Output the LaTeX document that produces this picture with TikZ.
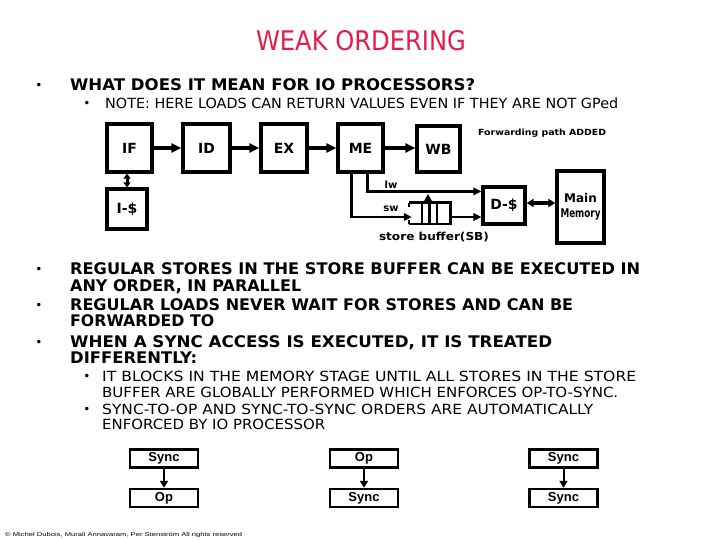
\documentclass[tikz,border=0pt]{standalone}
\usepackage{fontspec}
\usepackage{graphicx}
\setmainfont{DejaVu Sans}
\newfontfamily\arialf{Liberation Sans}
\usetikzlibrary{arrows.meta,calc}
\definecolor{titlered}{RGB}{228,28,78}
\newcommand\fitto[2]{\resizebox{#1pt}{\height}{#2}}
\begin{document}
\begin{tikzpicture}[x=1pt,y=-1pt,
  box/.style={draw,line width=3.2pt,inner sep=0pt,font=\bfseries\fontsize{14}{15}\selectfont},
  arr/.style={line width=3.2pt,-{Triangle[length=10pt,width=9pt]}},
  darr/.style={line width=3.2pt,arrows={Triangle[length=7pt,width=8pt]-Triangle[length=7pt,width=8pt]}},
  sdarr/.style={line width=3pt,arrows={Triangle[length=5pt,width=7pt]-Triangle[length=5pt,width=7pt]}},
  thinarr/.style={line width=2.6pt,-{Triangle[length=8pt,width=7.5pt]}},
  lbl/.style={inner sep=0pt,font=\bfseries\fontsize{10}{11}\selectfont},
  sbox/.style={draw,line width=2.4pt,inner sep=0pt,minimum width=68pt,minimum height=18pt,font=\arialf\bfseries\fontsize{13}{13}\selectfont},
  sarr/.style={line width=2pt,-{Triangle[length=7pt,width=8pt]}},
  bul/.style={inner sep=0pt,anchor=base,font=\fontsize{12}{12}\selectfont},
  bold/.style={inner sep=0pt,anchor=base west,font=\bfseries\fontsize{16}{16}\selectfont},
  thin/.style={inner sep=0pt,anchor=base west,font=\fontsize{14}{14}\selectfont}
]
\useasboundingbox (0,0) rectangle (720,540);

% title
\node[inner sep=0pt,text=titlered,font=\fontsize{27}{27}\selectfont] (title) at (361,41) {\fitto{210}{WEAK ORDERING}};

% bullet 1
\node[bul] (b1) at (39,90) {•};
\node[bold] (t1) at (70,91) {\fitto{405}{WHAT DOES IT MEAN FOR IO PROCESSORS?}};
\node[bul] (b1a) at (87,108) {•};
\node[thin] (t1a) at (105,109) {\fitto{513}{NOTE: HERE LOADS CAN RETURN VALUES EVEN IF THEY ARE NOT GPed}};

% pipeline
\node[box,minimum width=45pt,minimum height=48pt] (IF) at (129.5,148) {IF};
\node[box,minimum width=47pt,minimum height=48pt] (ID) at (206.5,148) {ID};
\node[box,minimum width=46pt,minimum height=48pt] (EX) at (284,148) {EX};
\node[box,minimum width=45pt,minimum height=48pt] (ME) at (360.5,148) {ME};
\node[box,minimum width=43pt,minimum height=46pt] (WB) at (438.5,149) {WB};
\node[box,minimum width=40pt,minimum height=40pt] (IC) at (127,209) {I-\$};
\node[box,minimum width=42pt,minimum height=37pt] (DC) at (504,205.5) {D-\$};
\node[box,minimum width=47pt,minimum height=72pt,align=center,font=\bfseries\fontsize{12}{15}\selectfont] (MM) at (580.5,207) {Main\\\fitto{40}{Memory}};

\draw[arr] (IF) -- (ID);
\draw[arr] (ID) -- (EX);
\draw[arr] (EX) -- (ME);
\draw[arr] (ME.east) -- (ME.east -| WB.west);
\coordinate (icA) at (IF.south -| IC.north);
\draw[sdarr] (icA) -- (IC.north);

\node[lbl,anchor=west,font=\bfseries\fontsize{8.5}{9}\selectfont] (fwd) at (478,133) {\fitto{128}{Forwarding path ADDED}};

% store buffer
\node[inner sep=0pt,minimum width=41pt,minimum height=21pt] (SB) at (429.5,213.5) {};
\draw[line width=2.6pt] (SB.north west) -- (SB.north east) -- (SB.south east) -- (SB.south west);
\foreach \xx in {422,429.5,437} \draw[line width=2.4pt] (\xx,203) -- (\xx,224);
\draw[line width=2.4pt] (SB.north west) -- ++(0,4);
\draw[line width=2.4pt] (SB.south west) -- ++(0,-4);

\coordinate (lwA) at ($(ME.south west)+(31,0)$);
\coordinate (swA) at ($(ME.south west)+(15,0)$);
\coordinate (lwB) at ($(DC.north west)+(0,6)$);
\coordinate (swB) at ($(SB.west)+(3,3.5)$);
\draw[thinarr] (lwA) |- (lwB);
\draw[thinarr] (swA) |- (swB);
\draw[line width=2.4pt,-{Triangle[length=7pt,width=7pt]}] ($(SB.north)+(-1.5,0)$) -- ($(SB.north)+(-1.5,-9)$);
\coordinate (sbA) at ($(SB.east)+(0,3.5)$);
\coordinate (sbB) at (sbA -| DC.west);
\draw[thinarr] (sbA) -- (sbB);
\coordinate (dmA) at ($(DC.east)+(0,-2.5)$);
\coordinate (dmB) at (dmA -| MM.west);
\draw[darr] (dmA) -- (dmB);

\node[lbl] (lw) at (391,185) {lw};
\node[lbl] (sw) at (391,209) {sw};
\node[lbl,font=\bfseries\fontsize{11}{11}\selectfont] (sbl) at (434,237) {\fitto{110}{store buffer(SB)}};

% bullets 2-4
\node[bul] (b2) at (39,273) {•};
\node[bold] (t2) at (70,274) {\fitto{570}{REGULAR STORES IN THE STORE BUFFER CAN BE EXECUTED IN}};
\node[bold] (t2b) at (70,291) {\fitto{231}{ANY ORDER, IN PARALLEL}};
\node[bul] (b3) at (39,309) {•};
\node[bold] (t3) at (70,310) {\fitto{503}{REGULAR LOADS NEVER WAIT FOR STORES AND CAN BE}};
\node[bold] (t3b) at (70,326) {\fitto{144}{FORWARDED TO}};
\node[bul] (b4) at (39,346) {•};
\node[bold] (t4) at (70,347) {\fitto{482}{WHEN A SYNC ACCESS IS EXECUTED, IT IS TREATED}};
\node[bold] (t4b) at (70,363) {\fitto{127}{DIFFERENTLY:}};

\node[bul] (b4a) at (87,380) {•};
\node[thin] (t4a) at (102,381) {\fitto{534}{IT BLOCKS IN THE MEMORY STAGE UNTIL ALL STORES IN THE STORE}};
\node[thin] (t4a2) at (102,397) {\fitto{516}{BUFFER ARE GLOBALLY PERFORMED WHICH ENFORCES OP-TO-SYNC.}};
\node[bul] (b4b) at (87,413) {•};
\node[thin] (t4b1) at (102,414) {\fitto{491}{SYNC-TO-OP AND SYNC-TO-SYNC ORDERS ARE AUTOMATICALLY}};
\node[thin] (t4b2) at (102,429) {\fitto{223}{ENFORCED BY IO PROCESSOR}};

% bottom examples
\node[sbox] (S1) at (164,458.5) {Sync};
\node[sbox] (O1) at (164,498) {Op};
\draw[sarr] (S1) -- (O1);
\node[sbox] (O2) at (364,458.5) {Op};
\node[sbox] (S2) at (364,498) {Sync};
\draw[sarr] (O2) -- (S2);
\node[sbox] (S3) at (563.5,458.5) {Sync};
\node[sbox] (S4) at (563.5,498) {Sync};
\draw[sarr] (S3) -- (S4);

% footer
\node[inner sep=0pt,anchor=west,font=\arialf\fontsize{5.5}{6}\selectfont] (foot) at (5,535) {\fitto{237}{© Michel Dubois, Murali Annavaram, Per Stenström All rights reserved}};
\end{tikzpicture}
\end{document}
